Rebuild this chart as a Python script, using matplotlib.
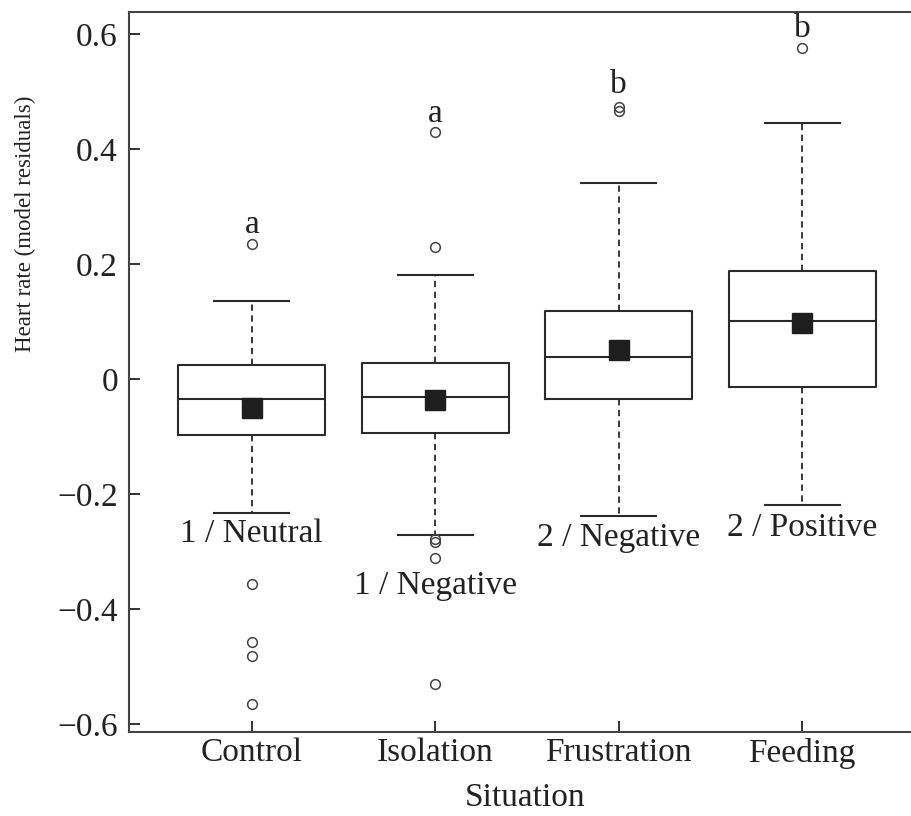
import matplotlib
matplotlib.use("Agg")
import matplotlib.pyplot as plt

# data (model residuals)
situations = ["Control", "Isolation", "Frustration", "Feeding"]
medians = [-0.035, -0.032, 0.038, 0.100]
q1 = [-0.097, -0.094, -0.035, -0.014]
q3 = [0.024, 0.027, 0.118, 0.187]
whisk_lo = [-0.234, -0.272, -0.238, -0.220]
whisk_hi = [0.135, 0.180, 0.341, 0.445]
means = [-0.051, -0.037, 0.050, 0.097]
fliers = [
    [0.234, -0.357, -0.457, -0.482, -0.566],
    [0.429, 0.229, -0.278, -0.283, -0.311, -0.530],
    [0.466, 0.472],
    [0.576],
]
letters = ["a", "a", "b", "b"]
letter_y = [0.253, 0.4475, 0.497, 0.594]
groups = ["1 / Neutral", "1 / Negative", "2 / Negative", "2 / Positive"]
group_y = [-0.283, -0.374, -0.290, -0.273]

ytick_vals = [-0.6, -0.4, -0.2, 0, 0.2, 0.4, 0.6]
ytick_labels = ["\u22120.6", "\u22120.4", "\u22120.2", "0", "0.2", "0.4", "0.6"]

plt.rcParams["font.family"] = ["Liberation Serif", "DejaVu Serif"]
line_col = "#2a2a2a"

fig = plt.figure(figsize=(9.12, 8.16), dpi=100)
ax = fig.add_axes([129 / 912, 1 - 732 / 816, 796 / 912, 720 / 816])

stats = []
for i in range(len(situations)):
    stats.append(dict(label=situations[i], med=medians[i], q1=q1[i], q3=q3[i],
                      whislo=whisk_lo[i], whishi=whisk_hi[i],
                      fliers=fliers[i], mean=means[i]))

pos = [1, 2, 3, 4]
ax.bxp(stats, positions=pos, widths=0.8, capwidths=0.41, showmeans=True,
       boxprops=dict(color=line_col, linewidth=1.5),
       medianprops=dict(color=line_col, linewidth=1.5),
       whiskerprops=dict(color=line_col, linewidth=1.3, linestyle=(0, (3.5, 2.5))),
       capprops=dict(color=line_col, linewidth=1.5),
       flierprops=dict(marker="o", markersize=7, markerfacecolor="none",
                       markeredgecolor="#444444", markeredgewidth=1.1),
       meanprops=dict(marker="s", markersize=13.7, markerfacecolor="#1e1e1e",
                      markeredgecolor="#1e1e1e"))

for i in range(len(situations)):
    ax.text(pos[i], letter_y[i], letters[i], ha="center", va="baseline",
            fontsize=24, color="#222222")
    ax.text(pos[i], group_y[i], groups[i], ha="center", va="baseline",
            fontsize=24, color="#222222")

ax.set_xlim(0.331, 4.669)
ax.set_ylim(-0.614, 0.638)
ax.set_yticks(ytick_vals)
ax.set_yticklabels(ytick_labels)
ax.set_xticks(pos)
ax.set_xticklabels(situations)

ax.tick_params(axis="both", direction="in", length=8, width=1.4,
               color="#333333", labelsize=24, labelcolor="#222222")
ax.tick_params(axis="x", pad=4)
ax.tick_params(axis="y", pad=8)

for sp in ax.spines.values():
    sp.set_linewidth(1.5)
    sp.set_color("#444444")
ax.spines["right"].set_visible(False)

ax.set_xlabel("Situation", fontsize=24, color="#222222")
ax.xaxis.set_label_coords(0.498, -0.0708)
ax.set_ylabel("Heart rate (model residuals)", fontsize=16.5, color="#222222", va="center")
ax.yaxis.set_label_coords(-0.1307, 0.7056)

fig.savefig("out.png", dpi=100)
